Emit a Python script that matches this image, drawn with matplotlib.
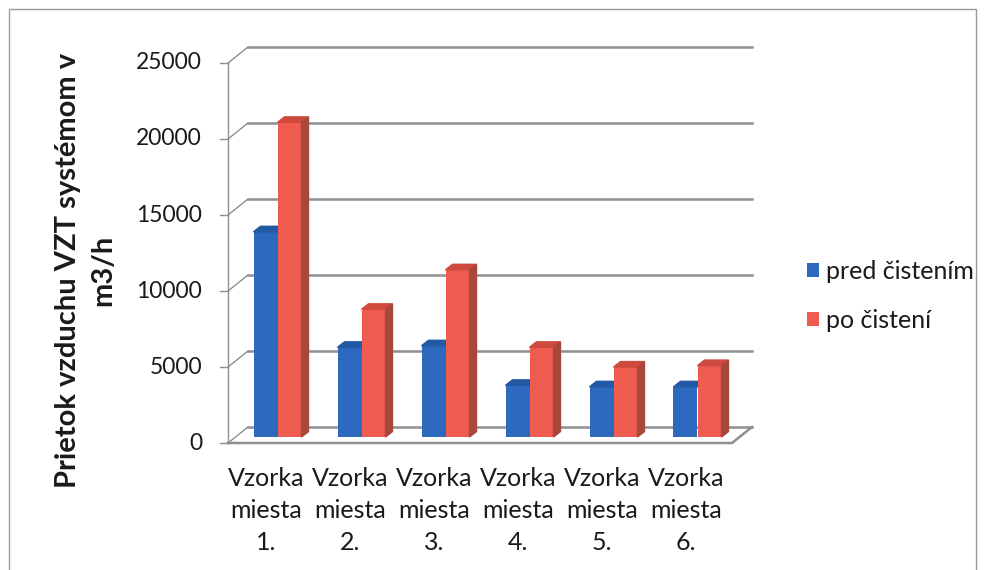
import matplotlib.pyplot as plt
from matplotlib.patches import Polygon, Rectangle
import numpy as np

plt.rcParams['font.family'] = ['Lato', 'DejaVu Sans']

# data
categories = ['Vzorka\nmiesta\n1.', 'Vzorka\nmiesta\n2.', 'Vzorka\nmiesta\n3.',
              'Vzorka\nmiesta\n4.', 'Vzorka\nmiesta\n5.', 'Vzorka\nmiesta\n6.']
pred_cistenim = [13500, 5900, 6000, 3400, 3300, 3300]
po_cisteni = [20700, 8400, 11000, 5900, 4600, 4700]
series_names = ['pred čistením', 'po čistení']
yticks = [0, 5000, 10000, 15000, 20000, 25000]
ylabel = 'Prietok vzduchu VZT systémom v\nm3/h'

blue, blue_top = '#2d69bf', '#2358a3'
red, red_top, red_side = '#f05b4f', '#cf4a3e', '#a8473c'
grid_col = '#8f8f8f'
txt_col = '#1a1a1a'

W, H = 987, 570
fig = plt.figure(figsize=(W / 100, H / 100), dpi=100)
fig.patch.set_facecolor('white')
ax = fig.add_axes([200 / W, 100 / H, 580 / W, 440 / H])
ax.axis('off')

# pixel -> data units
ux = 1 / 84
uy = 5000 / 76
ax.set_xlim(-0.5 - 35.5 * ux, 5.5 + 40.5 * ux)
ax.set_ylim(-33 * uy, yticks[-1] + 27 * uy)

# 3d depth of the box (front and back plane offsets relative to bar plane)
ddx, ddy = 20 * ux, 16 * uy
fx, fy = -0.375 * ddx, -0.375 * ddy
bx, by = 0.625 * ddx, 0.625 * ddy
left, right = -0.5, len(categories) - 0.5

# walls
for t in yticks:
    ax.plot([left + bx, right + bx], [t + by, t + by], color=grid_col, lw=1.8, zorder=1)
    ax.plot([left + fx, left + bx], [t + fy, t + by], color=grid_col, lw=1.0, zorder=1)
    ax.plot([left + fx - 8 * ux, left + fx], [t + fy, t + fy], color=grid_col, lw=1.0, zorder=1)
    ax.text(left + fx - 26 * ux, t + fy, str(t), ha='right', va='center',
            fontsize=16.5, color=txt_col)
ax.plot([left + fx, left + fx], [fy, yticks[-1] + fy], color=grid_col, lw=1.0, zorder=1)
ax.plot([left + fx, right + fx, right + bx], [fy, fy, by], color=grid_col, lw=1.8, zorder=1)

# bars
x = np.arange(len(categories))
w = 24 * ux
bdx, bdy = 7 * ux, 5.5 * uy
b1 = ax.bar(x - w / 2, pred_cistenim, w, color=blue, zorder=3, label=series_names[0])
b2 = ax.bar(x + w / 2, po_cisteni, w, color=red, zorder=4, label=series_names[1])
for xi, v in zip(x - w, pred_cistenim):
    ax.add_patch(Polygon([(xi, v), (xi + bdx, v + bdy), (xi + w + bdx, v + bdy), (xi + w, v)],
                         closed=True, color=blue_top, zorder=3))
for xi, v in zip(x, po_cisteni):
    ax.add_patch(Polygon([(xi, v), (xi + bdx, v + bdy), (xi + w + bdx, v + bdy), (xi + w, v)],
                         closed=True, color=red_top, zorder=4))
    ax.add_patch(Polygon([(xi + w, 0), (xi + w + bdx, bdy), (xi + w + bdx, v + bdy), (xi + w, v)],
                         closed=True, color=red_side, zorder=4))

# category labels
for xi, lab in zip(x, categories):
    ax.text(xi + fx - 4 * ux, fy - 24 * uy, lab, ha='center', va='top',
            fontsize=18, color=txt_col, linespacing=1.48)

fig.text(86 / W, 1 - 270 / H, ylabel, rotation=90, ha='center', va='center',
         fontsize=21, fontweight='bold', color=txt_col, linespacing=1.45)

fig.legend(handles=[b1, b2], labels=series_names, loc='center left',
           bbox_to_anchor=(784 / W, 1 - 296 / H), frameon=False, fontsize=18,
           handlelength=0.5, handleheight=0.5, handletextpad=0.3, labelspacing=1.05,
           labelcolor=txt_col)

# outer chart frame
fig.patches.append(Rectangle((9 / W, -0.05), 967 / W, 1.05 - 9 / H, transform=fig.transFigure,
                             fill=False, edgecolor='#9a9a9a', lw=1.0))

fig.savefig('out.png', dpi=100)
